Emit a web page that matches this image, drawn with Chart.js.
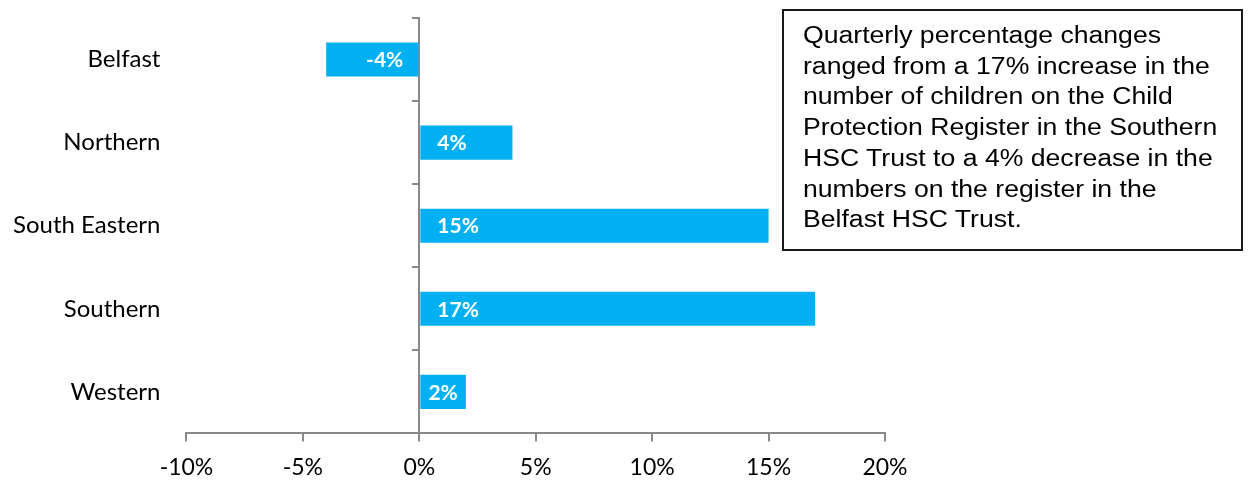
<!DOCTYPE html>
<html>
<head>
<meta charset="utf-8">
<script src="https://cdn.jsdelivr.net/npm/chart.js@4.4.0/dist/chart.umd.min.js"></script>
<style>
    html, body { margin: 0; padding: 0; background: #fff; }
    #wrap { position: relative; width: 1251px; height: 482px; }
    #myChart { position: absolute; left: 0; top: 0; }
    #note {
        position: absolute;
        left: 782px; top: 9px;
        width: 461px; height: 242px;
        border: 2px solid #1a1a1a;
        box-sizing: border-box;
        overflow: hidden;
    }
    #note div {
        position: absolute;
        left: 19px; top: 9px;
        width: 378px;
        font-family: "Liberation Sans", Arial, sans-serif;
        font-size: 23px;
        line-height: 30.7px;
        color: #000;
        transform: scaleX(1.157);
        transform-origin: left top;
    }
</style>
</head>
<body>
<div id="wrap">
    <canvas id="myChart" width="1251" height="482"></canvas>
    <div id="note"><div>Quarterly percentage changes ranged from a 17% increase in the number of children on the Child Protection Register in the Southern HSC Trust to a 4% decrease in the numbers on the register in the Belfast HSC Trust.</div></div>
</div>
<script>
const trusts = ['Belfast', 'Northern', 'South Eastern', 'Southern', 'Western'];
const changes = [-4, 4, 15, 17, 2];
const xMin = -10;
const xMax = 20;
const xStep = 5;

const axisGrey = '#898989';
const labelFont = 'Lato, "Open Sans", sans-serif';

// draws the value inside each bar, next to the zero line
const barLabels = {
    id: 'barLabels',
    afterDatasetsDraw(chart) {
        const ctx = chart.ctx;
        const meta = chart.getDatasetMeta(0);
        ctx.save();
        ctx.font = 'bold 21px ' + labelFont;
        ctx.fillStyle = '#ffffff';
        ctx.textBaseline = 'middle';
        meta.data.forEach((bar, i) => {
            const v = changes[i];
            const txt = v + '%';
            const w = ctx.measureText(txt).width;
            const len = Math.abs(bar.x - bar.base);
            if (w + 24 > len) {
                // too short, centre it in the bar
                ctx.textAlign = 'center';
                ctx.fillText(txt, (bar.x + bar.base) / 2, bar.y + 1);
            } else if (v < 0) {
                ctx.textAlign = 'right';
                ctx.fillText(txt, bar.base - 15, bar.y + 1);
            } else {
                ctx.textAlign = 'left';
                ctx.fillText(txt, bar.base + 17, bar.y + 1);
            }
        });
        ctx.restore();
    }
};

// stop the scales from adding their own edge padding
const noEdgePadding = (scale) => {
    scale.paddingTop = 0;
    scale.paddingBottom = 0;
    scale.paddingLeft = 0;
    scale.paddingRight = 0;
};

const ctx = document.getElementById('myChart').getContext('2d');
window.myChart = new Chart(ctx, {
    type: 'bar',
    data: {
        labels: trusts,
        datasets: [{
            data: changes,
            backgroundColor: '#00B0F0',
            borderWidth: 0,
            barPercentage: 0.5,
            categoryPercentage: 0.82,
            yAxisID: 'y'
        }]
    },
    options: {
        indexAxis: 'y',
        responsive: false,
        animation: false,
        layout: {
            padding: { left: -5, right: 366, top: 18, bottom: -11 }
        },
        scales: {
            x: {
                min: xMin,
                max: xMax,
                afterFit: noEdgePadding,
                ticks: {
                    stepSize: xStep,
                    color: '#000',
                    font: { family: labelFont, size: 23 },
                    padding: 12,
                    maxRotation: 0,
                    callback: (v) => v + '%'
                },
                grid: {
                    drawOnChartArea: false,
                    color: axisGrey,
                    tickLength: 8,
                    lineWidth: 2
                },
                border: { color: axisGrey, width: 2 }
            },
            y: {
                type: 'category',
                offset: true,
                afterFit: noEdgePadding,
                ticks: {
                    color: '#000',
                    font: { family: labelFont, size: 24 },
                    padding: 18
                },
                grid: { display: false, drawTicks: true, tickLength: 8 },
                border: { display: false }
            },
            // the category axis line sitting on zero
            y2: {
                type: 'category',
                position: { x: 0 },
                offset: true,
                afterFit: (scale) => {
                    noEdgePadding(scale);
                    scale.width = 0;
                },
                ticks: { display: false },
                grid: {
                    offset: true,
                    drawOnChartArea: false,
                    color: axisGrey,
                    tickLength: 6,
                    lineWidth: 2
                },
                border: { color: axisGrey, width: 2 }
            }
        },
        plugins: {
            legend: { display: false },
            tooltip: { enabled: false },
            title: { display: false }
        }
    },
    plugins: [barLabels]
});
</script>
</body>
</html>
